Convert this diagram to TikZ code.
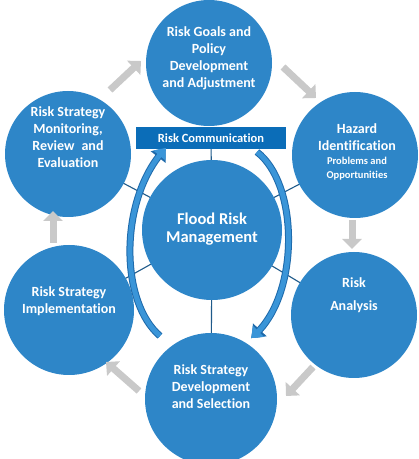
\documentclass[tikz,border=0pt]{standalone}
\usepackage{fontspec}
\setmainfont{Carlito}[Ligatures=NoCommon]
\usepackage{tikz}
\usetikzlibrary{arrows.meta,bending,calc,backgrounds}
\definecolor{disc}{HTML}{2E86C8}
\definecolor{commblue}{HTML}{0B6DB8}
\definecolor{spoke}{HTML}{1F5A8A}
\definecolor{loopfill}{HTML}{3A95D8}
\definecolor{loopedge}{HTML}{1E6AAB}
\definecolor{stepgray}{HTML}{C9C9C9}
\newcommand{\hazsub}{\fontsize{10.5}{12}\selectfont}

\begin{document}
\begin{tikzpicture}[x=1pt,y=1pt,>=Latex,
  stage/.style={circle,fill=disc,inner sep=0pt,minimum size=#1},
  stage/.default=126,
  stagetext/.style={text=white,align=center,font=\bfseries\fontsize{14}{17}\selectfont},
  commbox/.style={fill=commblue,text=white,minimum width=150,minimum height=22,inner sep=0pt,
    font=\bfseries\fontsize{12.5}{14}\selectfont},
  spokeline/.style={draw=spoke,line width=1.1pt},
  steparrow/.style={draw=stepgray,line width=7pt,-{Triangle[width=19pt,length=10pt]}},
  cyclearrow/.style={draw=loopfill,line width=5pt,-{Triangle[width=15pt,length=10pt,bend]},
    preaction={draw=loopedge,line width=7pt,-{Triangle[width=18pt,length=12pt,bend]}}}]
  \useasboundingbox (0,0) rectangle (419,459);

  % outer ring of stages
  \node[stage] (goals) at (209,396) {};
  \node[stage] (haz) at (355,304) {};
  \node[stage] (anal) at (354,144) {};
  \node[stage=132] (devsel) at (211,60) {};
  \node[stage=130] (impl) at (69,149) {};
  \node[stage] (mon) at (68,305) {};

  % hub
  \node[stage=140] (flood) at (212,229) {};
  \node[commbox] (comm) at (211,321) {Risk Communication};

  \node[stagetext] (goals-t) at ($(goals)+(0,4.5)$)
    {Risk Goals and\\Policy\\Development\\and Adjustment};
  \node[stagetext] (haz-t) at ($(haz)+(2,3)$)
    {Hazard\\Identification\\[-3pt]{\hazsub Problems and}\\[-3pt]{\hazsub Opportunities}};
  \node[stagetext] (anal-t) at ($(anal)+(0,19.5)$) {Risk\\[6pt]Analysis};
  \node[stagetext] (devsel-t) at ($(devsel)+(0,12)$)
    {Risk Strategy\\Development\\and Selection};
  \node[stagetext] (impl-t) at ($(impl)+(0,9)$) {Risk Strategy\\Implementation};
  \node[stagetext] (mon-t) at ($(mon)+(0,16.5)$)
    {Risk Strategy\\Monitoring,\\Review\enspace and\\Evaluation};
  \node[stagetext,font=\bfseries\fontsize{16.5}{18.5}\selectfont] (flood-t) at ($(flood)+(0,1)$)
    {Flood Risk\\Management};

  \begin{scope}[on background layer]
    \foreach \s in {comm,mon,haz,anal,impl,devsel}
      \draw[spokeline] (flood.center) -- (\s.center);
  \end{scope}

  % step arrows between the stages
  \foreach \xa/\ya/\xb/\yb in {110/369/141/398, 283/392/316/361, 352/239/352/210,
                               313/92/286/63, 139/68/106/97, 53/216/53/248}
    \draw[steparrow] (\xa,\ya) -- (\xb,\yb);

  % communication loop
  \coordinate (lpTail) at (160,123);
  \coordinate (lpTip) at (166,311);
  \coordinate (rpTail) at (257,307);
  \coordinate (rpTip) at (251,121);
  \draw[cyclearrow] (lpTail) .. controls (118,159) and (120,264) .. (lpTip);
  \draw[cyclearrow] (rpTail) .. controls (300,274) and (300,159) .. (rpTip);
\end{tikzpicture}
\end{document}
